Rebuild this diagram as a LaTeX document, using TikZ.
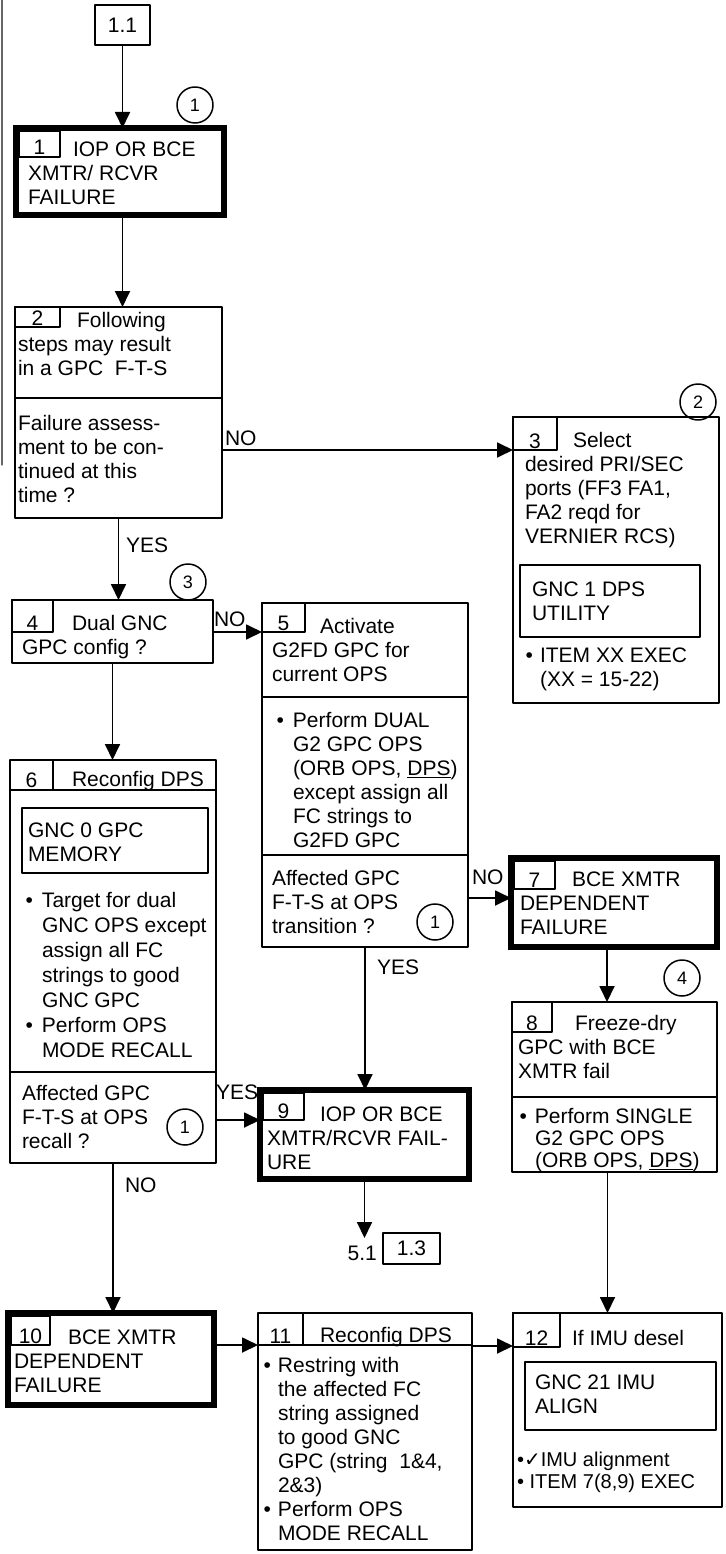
\documentclass[tikz,border=0pt]{standalone}
\usepackage{fontspec}
\setmainfont{Liberation Sans}
\newfontfamily\symfont{DejaVu Sans}
\usetikzlibrary{arrows.meta}

\begin{document}
\begin{tikzpicture}[x=1pt, y=-1pt, line cap=round, line join=round,
  font=\fontsize{21}{24}\selectfont,
  box/.style={draw, line width=1.8pt, inner sep=0pt, outer sep=0pt, anchor=north west},
  thickbox/.style={box, line width=6.5pt, line cap=butt, line join=miter},
  numbox/.style={draw, line width=1.5pt, inner sep=0pt, outer sep=0pt, anchor=north west},
  txt/.style={inner sep=0pt, outer sep=0pt, align=left, anchor=north west, yshift=15pt},
  num/.style={inner sep=0pt, anchor=base},
  circ/.style={draw, circle, line width=1.5pt, minimum size=36pt, inner sep=0pt, font=\fontsize{18}{18}\selectfont},
  ln/.style={line width=1.8pt},
  arr/.style={line width=1.8pt, -{Triangle[width=15pt,length=16pt]}}]
  \useasboundingbox (0,0) rectangle (725,1554);
  % Scanned page edge on the left.
  \draw[line width=1.2pt, black!60] (2,0) -- (2,465);

  % Entry point 1.1 and step 1.
  \node[box, minimum width=55, minimum height=40] (e11) at (95,5) {1.1};
  \node[thickbox, minimum width=208, minimum height=87] (b1) at (16,128) {};
  \node[numbox, minimum width=41, minimum height=26] (n1) at (19,131) {};
  \node[num] (d1) at ([yshift=2pt]n1.south) {1};
  \node[txt] (t1) at (28,157) {\hspace*{45pt}IOP OR BCE\\XMTR/ RCVR\\FAILURE};
  \node[circ] (c1) at (195,105) {1};
  \draw[arr] (e11.south) -- (e11.south |- b1.north);

  % Step 2: warning and question.
  \node[box, minimum width=207, minimum height=211] (b2) at (15,307) {};
  \node[numbox, minimum width=45, minimum height=20] (n2) at (15,307) {};
  \node[num] (d2) at ([yshift=2pt]n2.south) {2};
  \node[txt] (t2a) at (18,327) {\hspace*{59pt}Following\\steps may result\\in a GPC\ \ F-T-S};
  \draw[ln] (b2.west |- 0,398) -- (b2.east |- 0,398);
  \node[txt] (t2b) at (18,430) {Failure assess-\\ment to be con-\\tinued at this\\time ?};
  \draw[arr] (e11.south |- b1.south) -- (e11.south |- b2.north);

  % Step 3: port selection.
  \node[box, minimum width=206, minimum height=286] (b3) at (513,417) {};
  \node[numbox, minimum width=44, minimum height=33] (n3) at (513,417) {};
  \node[num] (d3) at ([yshift=2pt]n3.south) {3};
  \node[txt] (t3) at (525,447) {\hspace*{48pt}Select\\desired PRI/SEC\\ports (FF3 FA1,\\FA2 reqd for\\VERNIER RCS)};
  \node[box, line width=1.5pt, minimum width=180, minimum height=72] (i3) at (520,565) {};
  \node[txt] (ti3) at (532,597) {GNC 1 DPS\\UTILITY};
  \node[txt] (t3b) at (540,663) {\llap{\textbullet\hspace{7pt}}ITEM XX EXEC\\(XX = 15-22)};
  \node[circ] (c2) at (698,402) {2};
  \draw[arr] (b2.east |- n3.south) -- (n3.south west);
  \node[txt] (l2) at (225,446) {NO};

  % Step 4: config question.
  \node[box, minimum width=201, minimum height=63] (b4) at (12,600) {};
  \node[numbox, minimum width=41, minimum height=32] (n4) at (12,600) {};
  \node[num] (d4) at ([yshift=2pt]n4.south) {4};
  \node[txt] (t4) at (22,630) {\hspace*{50pt}Dual GNC\\GPC config ?};
  \node[circ] (c3) at (188,582) {3};
  \draw[arr] (b2.south) -- (b2.south |- b4.north);
  \node[txt] (l4) at (126,553) {YES};

  % Step 5: activate G2FD GPC.
  \node[box, minimum width=206, minimum height=344] (b5) at (262,603) {};
  \node[numbox, minimum width=43, minimum height=29] (n5) at (262,603) {};
  \node[num] (d5) at ([yshift=2pt]n5.south) {5};
  \node[txt] (t5a) at (272,633) {\hspace*{48pt}Activate\\G2FD GPC for\\current OPS};
  \draw[ln] (b5.west |- 0,697) -- (b5.east |- 0,697);
  \node[txt] (t5b) at (293,727) {\llap{\textbullet\hspace{9pt}}Perform DUAL\\G2 GPC OPS\\(ORB OPS, \underline{DPS})\\except assign all\\FC strings to\\G2FD GPC};
  \draw[ln] (b5.west |- 0,855) -- (b5.east |- 0,855);
  \node[txt] (t5c) at (272,885) {Affected GPC\\F-T-S at OPS\\transition ?};
  \node[circ] (c5) at (435,922) {1};
  \draw[arr] (b4.east |- n5.south) -- (n5.south west);
  \node[txt] (l5) at (214,627) {NO};

  % Step 6: reconfig DPS.
  \node[box, minimum width=206, minimum height=403] (b6) at (10,760) {};
  \draw[ln] (53,760) -- (53,790);
  \draw[ln] (b6.west |- 0,790) -- (b6.east |- 0,790);
  \node[num] (d6) at (31.5,787) {6};
  \node[txt] (h6) at (72,786) {Reconfig DPS};
  \node[box, line width=1.5pt, minimum width=186, minimum height=65] (i6) at (22,808) {};
  \node[txt] (ti6) at (28,838) {GNC 0 GPC\\MEMORY};
  \node[txt, font=\fontsize{21}{25}\selectfont] (t6b) at (42,907) {\llap{\textbullet\hspace{9pt}}Target for dual\\GNC OPS except\\assign all FC\\strings to good\\GNC GPC\\\llap{\textbullet\hspace{9pt}}Perform OPS\\MODE RECALL};
  \draw[ln] (b6.west |- 0,1072) -- (b6.east |- 0,1072);
  \node[txt] (t6c) at (22,1100) {Affected GPC\\F-T-S at OPS\\recall ?};
  \node[circ] (c6) at (185,1127) {1};
  \draw[arr] (b4.south) -- (b4.south |- b6.north);
  \node[txt] (l6) at (125,1193) {NO};

  % Step 7: BCE XMTR dependent failure.
  \node[thickbox, minimum width=206, minimum height=89] (b7) at (511,858) {};
  \node[numbox, minimum width=41, minimum height=28] (n7) at (514,861) {};
  \node[num] (d7) at ([yshift=2pt]n7.south) {7};
  \node[txt] (t7) at (520,887) {\hspace*{52pt}BCE XMTR\\DEPENDENT\\FAILURE};
  \draw[arr] (b5.east |- 0,898) -- (b7.west |- 0,898);
  \node[txt] (l7) at (472,885) {NO};

  % Step 8: freeze-dry.
  \node[box, minimum width=205, minimum height=170] (b8) at (512,1002) {};
  \node[numbox, minimum width=40, minimum height=30] (n8) at (512,1002) {};
  \node[num] (d8) at ([yshift=2pt]n8.south) {8};
  \node[txt] (t8a) at (518,1030) {\hspace*{57pt}Freeze-dry\\GPC with BCE\\XMTR fail};
  \draw[ln] (b8.west |- 0,1097) -- (b8.east |- 0,1097);
  \node[txt, font=\fontsize{21}{22}\selectfont] (t8b) at (535,1123) {\llap{\textbullet\hspace{8pt}}Perform SINGLE\\G2 GPC OPS\\(ORB OPS, \underline{DPS})};
  \node[circ] (c4) at (682,978) {4};
  \draw[arr] ([xshift=-7pt]b7.south) -- ([xshift=-7pt]b7.south |- b8.north);

  % Step 9: IOP or BCE failure, exit to 5.1 / 1.3.
  \node[thickbox, minimum width=209, minimum height=89] (b9) at (260,1090) {};
  \node[numbox, minimum width=41, minimum height=27] (n9) at (263,1093) {};
  \node[num] (d9) at ([yshift=2pt]n9.south) {9};
  \node[txt] (t9) at (267,1122) {\hspace*{53pt}IOP OR BCE\\XMTR/RCVR FAIL-\\URE};
  \draw[arr] (b5.south) -- (b5.south |- b9.north);
  \node[txt] (l9) at (377,975) {YES};
  \draw[arr] (b6.east |- n9.south) -- (b9.west |- n9.south);
  \node[txt] (l9b) at (216,1100) {YES};
  \node[num, anchor=base east] (l51) at (377,1260) {5.1};
  \node[box, minimum width=57, minimum height=31] (e13) at (383,1233) {1.3};
  \coordinate (e9) at (368,1238);
  \draw[arr] (b9.south) -- (b9.south |- e9);

  % Step 10: BCE XMTR dependent failure.
  \node[thickbox, minimum width=206, minimum height=92] (b10) at (8,1313) {};
  \node[numbox, minimum width=39, minimum height=29] (n10) at (11,1316) {};
  \node[num] (d10) at ([yshift=2pt]n10.south) {10};
  \node[txt] (t10) at (14,1345) {\hspace*{54pt}BCE XMTR\\DEPENDENT\\FAILURE};
  \draw[arr] (b6.south) -- (b6.south |- b10.north);

  % Step 11: restring.
  \node[box, minimum width=214, minimum height=237] (b11) at (258,1313) {};
  \draw[ln] (303,1313) -- (303,1345);
  \draw[ln] (b11.west |- 0,1345) -- (b11.east |- 0,1345);
  \node[num] (d11) at (280.5,1343) {11};
  \node[txt] (h11) at (320,1342) {Reconfig DPS};
  \node[txt] (t11) at (278,1372) {\llap{\textbullet\hspace{7pt}}Restring with\\the affected FC\\string assigned\\to good GNC\\GPC (string\ \ 1\&4,\\2\&3)\\\llap{\textbullet\hspace{7pt}}Perform OPS\\MODE RECALL};
  \draw[arr] (b10.east |- 0,1345) -- (b11.west |- 0,1345);

  % Step 12: IMU alignment.
  \node[box, minimum width=209, minimum height=194] (b12) at (513,1313) {};
  \node[numbox, minimum width=47, minimum height=34] (n12) at (513,1313) {};
  \node[num] (d12) at ([yshift=2pt]n12.south) {12};
  \node[txt] (t12) at (572,1345) {If IMU desel};
  \node[box, line width=1.5pt, minimum width=191, minimum height=68] (i12) at (525,1362) {};
  \node[txt] (ti12) at (535,1390) {GNC 21 IMU\\ALIGN};
  \node[txt, font=\fontsize{20}{22}\selectfont] (t12b) at (517,1467) {\textbullet{\symfont ✓}IMU alignment\\\textbullet\ ITEM 7(8,9) EXEC};
  \draw[arr] (b11.east |- 0,1346) -- (b12.west |- 0,1346);
  \draw[arr] ([xshift=-7pt]b8.south) -- ([xshift=-7pt]b8.south |- b12.north);
\end{tikzpicture}
\end{document}
